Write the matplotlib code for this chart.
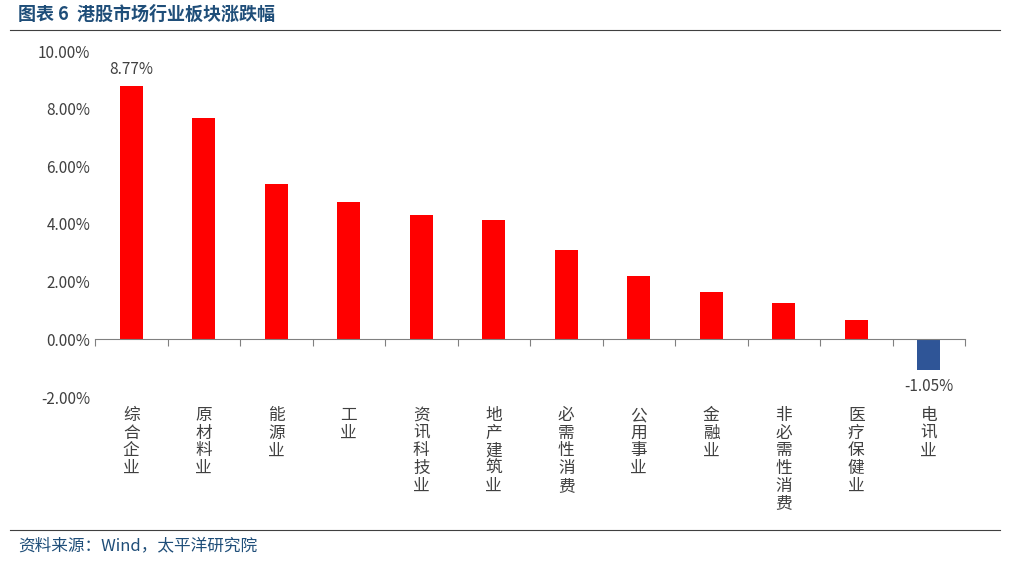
import matplotlib
matplotlib.use("Agg")
import matplotlib.pyplot as plt
import numpy as np
from matplotlib.ticker import FuncFormatter

plt.rcParams['font.family'] = ['Noto Sans CJK SC', 'DejaVu Sans']

categories = ["综合企业", "原材料业", "能源业", "工业", "资讯科技业", "地产建筑业",
              "必需性消费", "公用事业", "金融业", "非必需性消费", "医疗保健业", "电讯业"]
values = [8.77, 7.68, 5.40, 4.75, 4.32, 4.15, 3.10, 2.20, 1.63, 1.27, 0.68, -1.05]

fig = plt.figure(figsize=(10.18, 5.61), dpi=100)
ax = fig.add_axes([95 / 1018, 1 - 397 / 561, 870 / 1018, 346 / 561])

x = np.arange(len(categories))
colors = ["#FF0000" if v >= 0 else "#2F5597" for v in values]
ax.bar(x, values, width=0.32, color=colors)

ax.set_xlim(-0.5, len(categories) - 0.5)
ax.set_ylim(-2, 10)
ax.set_yticks(np.arange(-2, 10.1, 2))
ax.yaxis.set_major_formatter(FuncFormatter(lambda v, _: f"{v:.2f}%"))
ax.tick_params(axis="y", length=0, labelsize=11, colors="#404040")
for s in ["top", "right", "left"]:
    ax.spines[s].set_visible(False)
ax.spines["bottom"].set_position(("data", 0))
ax.spines["bottom"].set_color("#808080")
ax.set_xticks(np.arange(-0.5, len(categories), 1))
ax.set_xticklabels([])
ax.tick_params(axis="x", direction="out", length=5, color="#808080")

for i, c in enumerate(categories):
    ax.text(i, -2.35, "\n".join(c), ha="center", va="top", fontsize=12,
            color="#404040", linespacing=1.05)

ax.text(0, values[0] + 0.3, f"{values[0]:.2f}%", ha="center", va="bottom",
        fontsize=11, color="#404040")
ax.text(11, values[-1] - 0.3, f"{values[-1]:.2f}%", ha="center", va="top",
        fontsize=11, color="#404040")

fig.text(18 / 1018, 1 - 14 / 561, "图表 6  港股市场行业板块涨跌幅", fontsize=13,
         fontweight="bold", color="#1F4E79", va="center")
fig.add_artist(plt.Line2D([10 / 1018, 1000 / 1018], [1 - 30 / 561] * 2, color="#404040", lw=0.8))
fig.add_artist(plt.Line2D([10 / 1018, 1000 / 1018], [1 - 530 / 561] * 2, color="#404040", lw=0.8))
fig.text(18 / 1018, 1 - 546 / 561, "资料来源：Wind，太平洋研究院", fontsize=12,
         color="#1F4E79", va="center")

fig.savefig("out.png", dpi=100)
